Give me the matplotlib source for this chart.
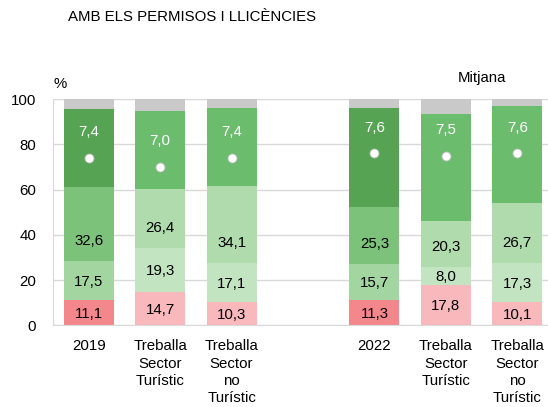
import matplotlib.pyplot as plt
import numpy as np

plt.rcParams['font.family'] = ['Liberation Sans', 'DejaVu Sans']

categories = ["2019", "Treballa\nSector\nTurístic", "Treballa\nSector\nno\nTurístic",
              "2022", "Treballa\nSector\nTurístic", "Treballa\nSector\nno\nTurístic"]
x_pos = [0, 1, 2, 4, 5, 6]

# stacked segments, bottom to top (%)
seg_low = [11.1, 14.7, 10.3, 11.3, 17.8, 10.1]
seg_mid = [17.5, 19.3, 17.1, 15.7, 8.0, 17.3]
seg_high = [32.6, 26.4, 34.1, 25.3, 20.3, 26.7]
seg_top = [34.5, 34.6, 34.7, 43.9, 47.4, 42.9]
seg_nr = [4.3, 5.0, 3.8, 3.8, 6.5, 3.0]
mitjana = [7.4, 7.0, 7.4, 7.6, 7.5, 7.6]

# colours: year totals darker, sector breakdowns lighter
is_total = [True, False, False, True, False, False]
col_low = ["#f4878b" if t else "#f9b8bb" for t in is_total]
col_mid = ["#a2d5a0" if t else "#c2e4c0" for t in is_total]
col_high = ["#7cc27b" if t else "#b0dbad" for t in is_total]
col_top = ["#55a353" if t else "#6cbc6e" for t in is_total]

FS = 10.8

fig = plt.figure(figsize=(5.48, 4.07), dpi=100)
ax = fig.add_axes([0.0967, 0.2007, 0.9033, 0.5555])

w = 0.7
b0 = np.zeros(len(x_pos))
b1 = b0 + seg_low
b2 = b1 + seg_mid
b3 = b2 + seg_high
b4 = b3 + seg_top

ax.bar(x_pos, seg_low, w, bottom=b0, color=col_low, zorder=2)
ax.bar(x_pos, seg_mid, w, bottom=b1, color=col_mid, zorder=2)
ax.bar(x_pos, seg_high, w, bottom=b2, color=col_high, zorder=2)
ax.bar(x_pos, seg_top, w, bottom=b3, color=col_top, zorder=2)
ax.bar(x_pos, seg_nr, w, bottom=b4, color="#c9c9c9", zorder=2)

fmt = lambda v: ("%.1f" % v).replace(".", ",")

for i, x in enumerate(x_pos):
    ax.text(x, b0[i] + seg_low[i] / 2 - 0.5, fmt(seg_low[i]), ha="center", va="center",
            fontsize=FS, zorder=4)
    ax.text(x, b1[i] + seg_mid[i] / 2 - 0.5, fmt(seg_mid[i]), ha="center", va="center",
            fontsize=FS, zorder=4)
    ax.annotate(fmt(seg_high[i]), (x, b2[i]), xytext=(0, 14.5), textcoords="offset points",
                ha="center", va="center", fontsize=FS, zorder=4)
    ax.annotate(fmt(mitjana[i]), (x, mitjana[i] * 10), xytext=(0, 18.5),
                textcoords="offset points", ha="center", va="center",
                fontsize=FS, color="white", zorder=4)

ax.plot(x_pos, np.array(mitjana) * 10, "o", ms=6.5, mfc="white", mec="#bbbbbb",
        mew=0.6, ls="none", zorder=5)

ax.set_ylim(0, 100)
ax.set_xlim(-0.5, 6.43)
ax.set_yticks([0, 20, 40, 60, 80, 100])
ax.tick_params(axis="y", length=0, labelsize=FS, pad=12)
ax.set_xticks(x_pos)
ax.set_xticklabels(categories, fontsize=FS, linespacing=1.3)
ax.tick_params(axis="x", length=0, pad=10)
ax.grid(axis="y", color="#d9d9d9", lw=1, zorder=0)
for s in ["top", "right"]:
    ax.spines[s].set_visible(False)
ax.spines["left"].set_color("#d9d9d9")
ax.spines["bottom"].set_color("#d9d9d9")

fig.text(68 / 548, 1 - 17 / 407, "AMB ELS PERMISOS I LLICÈNCIES", fontsize=FS,
         ha="left", va="center")
fig.text(53 / 548, 1 - 84 / 407, "%", fontsize=FS, ha="left", va="center")
fig.text(482 / 548, 1 - 78 / 407, "Mitjana", fontsize=FS, ha="center", va="center")

fig.savefig("out.png", dpi=100)
